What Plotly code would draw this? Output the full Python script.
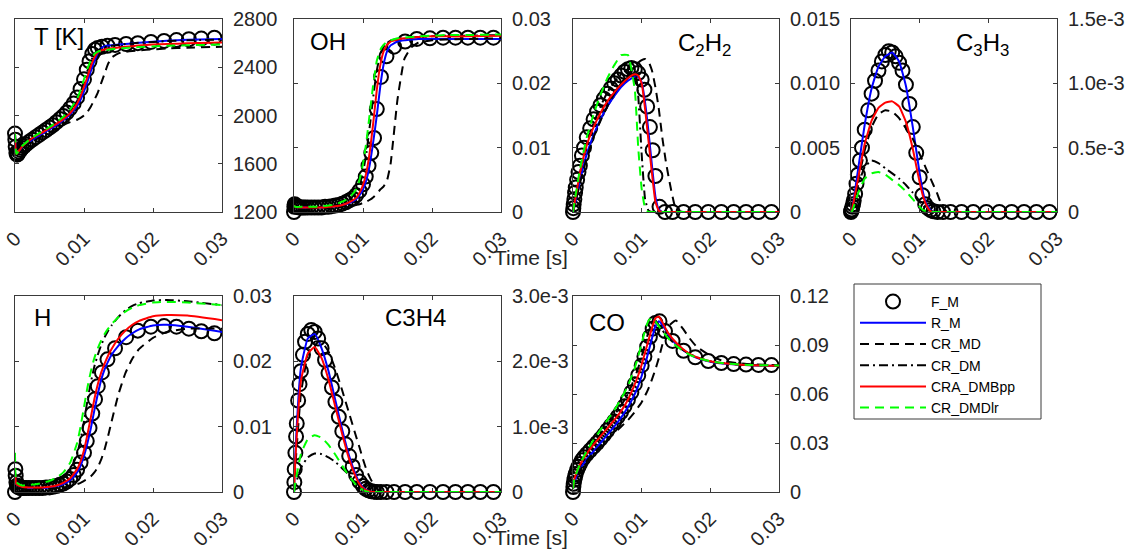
import plotly.graph_objects as go

# ---- sample times -------------------------------------------------------
t_fm = [0, 0.00005, 0.0001, 0.0002, 0.0003, 0.0004, 0.0006, 0.0008, 0.001, 0.0013,
        0.0016, 0.002, 0.0025, 0.003, 0.0035, 0.004, 0.0045, 0.005, 0.0055, 0.006,
        0.0065, 0.007, 0.0075, 0.008, 0.0085, 0.009, 0.0095, 0.01, 0.0104, 0.0108,
        0.0112, 0.0116, 0.012, 0.0126, 0.0134, 0.0145, 0.0161, 0.0178, 0.0197, 0.0216,
        0.0234, 0.0252, 0.027, 0.0289]

t_ln = [0, 0.0002, 0.001, 0.002, 0.003, 0.004, 0.005, 0.006, 0.007, 0.008,
        0.009, 0.0095, 0.010, 0.0105, 0.011, 0.0115, 0.012, 0.0125, 0.013, 0.0135,
        0.014, 0.015, 0.016, 0.017, 0.018, 0.020, 0.022, 0.025, 0.030]

# ---- temperature [K] ----------------------------------------------------
T_FM = [1850, 1800, 1740, 1690, 1675, 1680, 1700, 1715, 1730, 1745,
        1760, 1780, 1800, 1820, 1840, 1860, 1880, 1900, 1920, 1945,
        1970, 1995, 2025, 2060, 2100, 2150, 2220, 2300, 2380, 2450,
        2510, 2545, 2560, 2570, 2578, 2585, 2593, 2600, 2610, 2618,
        2625, 2632, 2638, 2645]
T_RM = [1850, 1680, 1735, 1780, 1815, 1850, 1885, 1920, 1960, 2010,
        2080, 2130, 2200, 2280, 2370, 2450, 2520, 2560, 2575, 2580,
        2583, 2588, 2593, 2598, 2603, 2612, 2620, 2627, 2635]
T_CRMD = [1850, 1680, 1730, 1770, 1800, 1830, 1860, 1890, 1920, 1945,
          1965, 1980, 2000, 2030, 2075, 2130, 2190, 2270, 2350, 2430,
          2480, 2515, 2528, 2535, 2540, 2548, 2555, 2562, 2570]
T_CRDM = [1850, 1680, 1740, 1790, 1830, 1865, 1900, 1940, 1985, 2040,
          2120, 2190, 2280, 2370, 2450, 2510, 2540, 2555, 2565, 2572,
          2578, 2585, 2592, 2598, 2603, 2610, 2617, 2623, 2630]
T_PP = [1850, 1680, 1740, 1790, 1830, 1860, 1895, 1930, 1970, 2020,
        2100, 2160, 2240, 2320, 2410, 2480, 2525, 2540, 2548, 2553,
        2557, 2563, 2570, 2575, 2580, 2588, 2593, 2598, 2605]
T_LR = [1850, 1680, 1745, 1795, 1835, 1870, 1905, 1945, 1990, 2050,
        2140, 2210, 2300, 2390, 2460, 2510, 2530, 2537, 2542, 2546,
        2550, 2555, 2560, 2565, 2568, 2573, 2578, 2582, 2588]

# ---- OH -----------------------------------------------------------------
OH_FM = [0.0, 0.0008, 0.0012, 0.0010, 0.0009, 0.0008, 0.0008, 0.0007, 0.0007, 0.0007,
         0.0007, 0.0007, 0.0007, 0.0007, 0.0007, 0.0007, 0.0008, 0.0008, 0.0009, 0.0010,
         0.0011, 0.0013, 0.0015, 0.0018, 0.0021, 0.0026, 0.0033, 0.0043, 0.0055, 0.0072,
         0.0092, 0.0115, 0.0160, 0.0210, 0.0242, 0.0257, 0.0265, 0.0269, 0.0270, 0.0271,
         0.0271, 0.0271, 0.0271, 0.0271]
OH_RM = [0.0010, 0.0008, 0.0007, 0.0007, 0.0007, 0.0007, 0.0008, 0.0009, 0.0011, 0.0014,
         0.0020, 0.0026, 0.0035, 0.0050, 0.0075, 0.0110, 0.0150, 0.0195, 0.0230, 0.0250,
         0.0259, 0.0265, 0.0267, 0.0268, 0.0269, 0.0269, 0.0269, 0.0269, 0.0269]
OH_CRMD = [0.0010, 0.0008, 0.0007, 0.0006, 0.0006, 0.0006, 0.0006, 0.0007, 0.0008, 0.0009,
           0.0011, 0.0012, 0.0014, 0.0016, 0.0019, 0.0023, 0.0028, 0.0035, 0.0040, 0.0050,
           0.0075, 0.0175, 0.0238, 0.0256, 0.0263, 0.0267, 0.0268, 0.0269, 0.0270]
OH_CRDM = [0.0010, 0.0008, 0.0007, 0.0007, 0.0007, 0.0008, 0.0009, 0.0011, 0.0014, 0.0019,
           0.0030, 0.0042, 0.0062, 0.0092, 0.0135, 0.0180, 0.0220, 0.0245, 0.0257, 0.0263,
           0.0266, 0.0269, 0.0270, 0.0271, 0.0272, 0.0273, 0.0274, 0.0274, 0.0275]
OH_PP = [0.0010, 0.0008, 0.0007, 0.0007, 0.0007, 0.0007, 0.0008, 0.0009, 0.0011, 0.0015,
         0.0022, 0.0030, 0.0042, 0.0062, 0.0095, 0.0140, 0.0190, 0.0228, 0.0250, 0.0260,
         0.0265, 0.0268, 0.0270, 0.0271, 0.0272, 0.0273, 0.0273, 0.0273, 0.0274]
OH_LR = [0.0010, 0.0008, 0.0008, 0.0008, 0.0008, 0.0009, 0.0010, 0.0012, 0.0016, 0.0022,
         0.0035, 0.0050, 0.0075, 0.0110, 0.0155, 0.0200, 0.0235, 0.0252, 0.0260, 0.0265,
         0.0267, 0.0270, 0.0271, 0.0272, 0.0273, 0.0274, 0.0275, 0.0275, 0.0276]

# ---- C2H2 ---------------------------------------------------------------
C2H2_FM = [0.0, 0.0003, 0.0006, 0.0010, 0.0015, 0.0019, 0.0025, 0.0031, 0.0036, 0.0044,
           0.0050, 0.0058, 0.0065, 0.0072, 0.0078, 0.0083, 0.0088, 0.0092, 0.0096, 0.0100,
           0.0103, 0.0106, 0.0109, 0.0111, 0.0112, 0.0111, 0.0108, 0.0103, 0.0095, 0.0082,
           0.0066, 0.0048, 0.0028, 0.0004, 0.0, 0.0, 0.0, 0.0, 0.0, 0.0,
           0.0, 0.0, 0.0, 0.0]
C2H2_RM = [0.0, 0.0004, 0.0024, 0.0045, 0.0060, 0.0072, 0.0082, 0.0090, 0.0097, 0.0102,
           0.0105, 0.0105, 0.0101, 0.0085, 0.0062, 0.0036, 0.0012, 0.0002, 0.0, 0.0,
           0.0, 0.0, 0.0, 0.0, 0.0, 0.0, 0.0, 0.0, 0.0]
C2H2_CRMD = [0.0, 0.0004, 0.0022, 0.0042, 0.0058, 0.0071, 0.0082, 0.0092, 0.0100, 0.0107,
             0.0113, 0.0116, 0.0118, 0.0119, 0.0117, 0.0110, 0.0097, 0.0080, 0.0058, 0.0040,
             0.0025, 0.0002, 0.0, 0.0, 0.0, 0.0, 0.0, 0.0, 0.0]
C2H2_CRDM = [0.0, 0.0006, 0.0030, 0.0053, 0.0069, 0.0082, 0.0093, 0.0101, 0.0107, 0.0111,
             0.0111, 0.0090, 0.0045, 0.0010, 0.0001, 0.0, 0.0, 0.0, 0.0, 0.0,
             0.0, 0.0, 0.0, 0.0, 0.0, 0.0, 0.0, 0.0, 0.0]
C2H2_PP = [0.0, 0.0006, 0.0030, 0.0052, 0.0066, 0.0077, 0.0086, 0.0093, 0.0099, 0.0104,
           0.0107, 0.0106, 0.0100, 0.0080, 0.0055, 0.0030, 0.0008, 0.0001, 0.0, 0.0,
           0.0, 0.0, 0.0, 0.0, 0.0, 0.0, 0.0, 0.0, 0.0]
C2H2_LR = [0.0, 0.0007, 0.0033, 0.0058, 0.0076, 0.0091, 0.0104, 0.0114, 0.0122, 0.0122,
           0.0095, 0.0050, 0.0018, 0.0003, 0.0, 0.0, 0.0, 0.0, 0.0, 0.0,
           0.0, 0.0, 0.0, 0.0, 0.0, 0.0, 0.0, 0.0, 0.0]

# ---- C3H3 ---------------------------------------------------------------
C3H3_FM = [0.0, 1e-5, 2e-5, 4e-5, 6e-5, 9e-5, 1.4e-4, 2.2e-4, 2.9e-4, 4.0e-4,
           5.0e-4, 6.4e-4, 7.9e-4, 9.2e-4, 1.02e-3, 1.10e-3, 1.17e-3, 1.22e-3, 1.25e-3, 1.24e-3,
           1.21e-3, 1.16e-3, 1.10e-3, 9.9e-4, 8.4e-4, 6.6e-4, 4.6e-4, 2.7e-4, 1.3e-4, 6e-5,
           3e-5, 1.5e-5, 5e-6, 0.0, 0.0, 0.0, 0.0, 0.0, 0.0, 0.0,
           0.0, 0.0, 0.0, 0.0]
C3H3_RM = [0.0, 3e-5, 3.2e-4, 6.8e-4, 9.6e-4, 1.13e-3, 1.21e-3, 1.24e-3, 1.17e-3, 9.8e-4,
           6.6e-4, 4.8e-4, 3.0e-4, 1.5e-4, 6e-5, 2e-5, 0.0, 0.0, 0.0, 0.0,
           0.0, 0.0, 0.0, 0.0, 0.0, 0.0, 0.0, 0.0, 0.0]
C3H3_CRMD = [0.0, 2e-5, 2.3e-4, 4.8e-4, 6.6e-4, 7.6e-4, 7.9e-4, 7.8e-4, 7.3e-4, 6.5e-4,
             5.7e-4, 5.1e-4, 4.5e-4, 3.9e-4, 3.3e-4, 2.7e-4, 2.1e-4, 1.5e-4, 8e-5, 3e-5,
             0.0, 0.0, 0.0, 0.0, 0.0, 0.0, 0.0, 0.0, 0.0]
C3H3_CRDM = [0.0, 2e-5, 2.0e-4, 3.5e-4, 4.0e-4, 3.8e-4, 3.4e-4, 3.0e-4, 2.6e-4, 2.1e-4,
             1.5e-4, 1.2e-4, 8e-5, 5e-5, 2.5e-5, 1e-5, 0.0, 0.0, 0.0, 0.0,
             0.0, 0.0, 0.0, 0.0, 0.0, 0.0, 0.0, 0.0, 0.0]
C3H3_PP = [0.0, 3e-5, 2.5e-4, 5.3e-4, 7.1e-4, 8.1e-4, 8.5e-4, 8.6e-4, 8.2e-4, 7.0e-4,
           4.9e-4, 3.6e-4, 2.3e-4, 1.2e-4, 5e-5, 1e-5, 0.0, 0.0, 0.0, 0.0,
           0.0, 0.0, 0.0, 0.0, 0.0, 0.0, 0.0, 0.0, 0.0]
C3H3_LR = [0.0, 1e-5, 1.4e-4, 2.6e-4, 3.0e-4, 3.1e-4, 2.9e-4, 2.5e-4, 2.1e-4, 1.6e-4,
           1.0e-4, 7e-5, 4e-5, 1.5e-5, 5e-6, 0.0, 0.0, 0.0, 0.0, 0.0,
           0.0, 0.0, 0.0, 0.0, 0.0, 0.0, 0.0, 0.0, 0.0]

# ---- H ------------------------------------------------------------------
H_FM = [0.0, 0.0035, 0.0025, 0.0015, 0.0010, 0.0008, 0.0007, 0.0006, 0.0006, 0.0006,
        0.0006, 0.0006, 0.0006, 0.0006, 0.0006, 0.0006, 0.0007, 0.0007, 0.0008, 0.0009,
        0.0011, 0.0013, 0.0016, 0.0020, 0.0026, 0.0034, 0.0045, 0.0060, 0.0078, 0.0098,
        0.0120, 0.0142, 0.0162, 0.0183, 0.0203, 0.0220, 0.0237, 0.0247, 0.0253, 0.0254,
        0.0253, 0.0250, 0.0246, 0.0243]
H_RM = [0.0030, 0.0012, 0.0007, 0.0006, 0.0006, 0.0006, 0.0007, 0.0009, 0.0012, 0.0018,
        0.0030, 0.0040, 0.0055, 0.0075, 0.0098, 0.0125, 0.0150, 0.0172, 0.0188, 0.0200,
        0.0210, 0.0224, 0.0235, 0.0243, 0.0249, 0.0255, 0.0256, 0.0253, 0.0245]
H_CRMD = [0.0030, 0.0012, 0.0006, 0.0005, 0.0005, 0.0005, 0.0005, 0.0006, 0.0007, 0.0009,
          0.0012, 0.0014, 0.0017, 0.0020, 0.0024, 0.0030, 0.0038, 0.0050, 0.0066, 0.0086,
          0.0108, 0.0150, 0.0182, 0.0204, 0.0219, 0.0236, 0.0245, 0.0250, 0.0250]
H_CRDM = [0.0030, 0.0012, 0.0008, 0.0008, 0.0009, 0.0010, 0.0012, 0.0016, 0.0022, 0.0033,
          0.0058, 0.0080, 0.0108, 0.0140, 0.0168, 0.0192, 0.0210, 0.0225, 0.0237, 0.0247,
          0.0255, 0.0268, 0.0278, 0.0285, 0.0289, 0.0293, 0.0294, 0.0292, 0.0286]
H_PP = [0.0030, 0.0012, 0.0008, 0.0007, 0.0007, 0.0007, 0.0008, 0.0010, 0.0014, 0.0021,
        0.0035, 0.0047, 0.0064, 0.0088, 0.0115, 0.0142, 0.0165, 0.0183, 0.0197, 0.0209,
        0.0219, 0.0235, 0.0247, 0.0256, 0.0262, 0.0269, 0.0271, 0.0270, 0.0263]
H_LR = [0.0060, 0.0015, 0.0010, 0.0011, 0.0012, 0.0014, 0.0017, 0.0022, 0.0030, 0.0045,
        0.0075, 0.0100, 0.0130, 0.0160, 0.0185, 0.0205, 0.0220, 0.0232, 0.0242, 0.0250,
        0.0257, 0.0268, 0.0276, 0.0282, 0.0286, 0.0290, 0.0291, 0.0290, 0.0286]

# ---- C3H4 ---------------------------------------------------------------
C3H4_FM = [0.0, 1.5e-4, 3.5e-4, 6.0e-4, 8.5e-4, 1.05e-3, 1.40e-3, 1.65e-3, 1.85e-3, 2.10e-3,
           2.30e-3, 2.42e-3, 2.48e-3, 2.45e-3, 2.35e-3, 2.20e-3, 2.02e-3, 1.82e-3, 1.60e-3, 1.38e-3,
           1.15e-3, 9.3e-4, 7.3e-4, 5.5e-4, 3.9e-4, 2.6e-4, 1.6e-4, 9e-5, 5e-5, 2.5e-5,
           1e-5, 5e-6, 0.0, 0.0, 0.0, 0.0, 0.0, 0.0, 0.0, 0.0,
           0.0, 0.0, 0.0, 0.0]
C3H4_RM = [0.0, 6.0e-4, 1.90e-3, 2.35e-3, 2.42e-3, 2.20e-3, 1.85e-3, 1.40e-3, 9.5e-4, 5.5e-4,
           2.5e-4, 1.4e-4, 7e-5, 3e-5, 1e-5, 0.0, 0.0, 0.0, 0.0, 0.0,
           0.0, 0.0, 0.0, 0.0, 0.0, 0.0, 0.0, 0.0, 0.0]
C3H4_CRMD = [0.0, 4.0e-4, 1.50e-3, 2.10e-3, 2.30e-3, 2.30e-3, 2.15e-3, 1.88e-3, 1.55e-3, 1.20e-3,
             8.5e-4, 6.8e-4, 5.0e-4, 3.4e-4, 2.2e-4, 1.2e-4, 5e-5, 1.5e-5, 0.0, 0.0,
             0.0, 0.0, 0.0, 0.0, 0.0, 0.0, 0.0, 0.0, 0.0]
C3H4_CRDM = [0.0, 1.0e-4, 3.7e-4, 5.3e-4, 5.9e-4, 5.8e-4, 5.3e-4, 4.6e-4, 3.6e-4, 2.6e-4,
             1.4e-4, 9e-5, 5e-5, 2e-5, 0.0, 0.0, 0.0, 0.0, 0.0, 0.0,
             0.0, 0.0, 0.0, 0.0, 0.0, 0.0, 0.0, 0.0, 0.0]
C3H4_PP = [0.0, 5.0e-4, 1.70e-3, 2.12e-3, 2.22e-3, 2.05e-3, 1.72e-3, 1.30e-3, 8.8e-4, 5.0e-4,
           2.2e-4, 1.2e-4, 6e-5, 2.5e-5, 1e-5, 0.0, 0.0, 0.0, 0.0, 0.0,
           0.0, 0.0, 0.0, 0.0, 0.0, 0.0, 0.0, 0.0, 0.0]
C3H4_LR = [0.0, 1.5e-4, 5.8e-4, 8.1e-4, 8.7e-4, 8.3e-4, 7.2e-4, 5.7e-4, 4.0e-4, 2.4e-4,
           1.1e-4, 6e-5, 3e-5, 1e-5, 0.0, 0.0, 0.0, 0.0, 0.0, 0.0,
           0.0, 0.0, 0.0, 0.0, 0.0, 0.0, 0.0, 0.0, 0.0]

# ---- CO -----------------------------------------------------------------
CO_FM = [0.0, 0.003, 0.005, 0.0075, 0.0095, 0.011, 0.0135, 0.0155, 0.0172, 0.0195,
         0.0212, 0.0232, 0.0255, 0.0278, 0.030, 0.0325, 0.035, 0.0378, 0.0405, 0.0432,
         0.046, 0.049, 0.0525, 0.0565, 0.061, 0.066, 0.0715, 0.0775, 0.083, 0.089,
         0.095, 0.100, 0.1035, 0.1045, 0.0985, 0.0925, 0.0865, 0.0825, 0.0802, 0.079,
         0.0783, 0.078, 0.0778, 0.0777]
CO_RM = [0.002, 0.006, 0.014, 0.020, 0.025, 0.030, 0.035, 0.040, 0.0455, 0.052,
         0.060, 0.065, 0.071, 0.078, 0.086, 0.094, 0.1015, 0.1045, 0.1025, 0.099,
         0.0955, 0.0905, 0.087, 0.0842, 0.0822, 0.0798, 0.0786, 0.0777, 0.0772]
CO_CRMD = [0.002, 0.006, 0.013, 0.019, 0.024, 0.028, 0.032, 0.036, 0.040, 0.044,
           0.049, 0.052, 0.055, 0.059, 0.0635, 0.069, 0.075, 0.082, 0.090, 0.097,
           0.102, 0.105, 0.100, 0.094, 0.089, 0.0835, 0.080, 0.0785, 0.0775]
CO_CRDM = [0.002, 0.007, 0.016, 0.024, 0.030, 0.0355, 0.041, 0.047, 0.053, 0.060,
           0.070, 0.076, 0.083, 0.091, 0.098, 0.1035, 0.105, 0.102, 0.099, 0.0965,
           0.094, 0.090, 0.087, 0.0845, 0.0825, 0.080, 0.0788, 0.0778, 0.0773]
CO_PP = [0.002, 0.008, 0.0165, 0.0235, 0.029, 0.034, 0.039, 0.044, 0.0495, 0.0565,
         0.066, 0.0715, 0.078, 0.0855, 0.093, 0.1005, 0.1065, 0.1075, 0.104, 0.100,
         0.0965, 0.0915, 0.0875, 0.0845, 0.0825, 0.080, 0.0788, 0.0778, 0.0773]
CO_LR = [0.002, 0.008, 0.017, 0.025, 0.032, 0.038, 0.044, 0.050, 0.057, 0.065,
         0.076, 0.083, 0.091, 0.099, 0.105, 0.1065, 0.1045, 0.1015, 0.0985, 0.096,
         0.0935, 0.0895, 0.0865, 0.084, 0.0822, 0.080, 0.0788, 0.0779, 0.0774]

# ---- axis ticks ---------------------------------------------------------
X_TICKS = [0, 0.01, 0.02, 0.03]
X_TICKTEXT = ["0", "0.01", "0.02", "0.03"]

T_TICKS = [1200, 1600, 2000, 2400, 2800]
T_TICKTEXT = ["1200", "1600", "2000", "2400", "2800"]
OH_TICKS = [0, 0.01, 0.02, 0.03]
OH_TICKTEXT = ["0", "0.01", "0.02", "0.03"]
C2H2_TICKS = [0, 0.005, 0.010, 0.015]
C2H2_TICKTEXT = ["0", "0.005", "0.010", "0.015"]
C3H3_TICKS = [0, 0.5e-3, 1.0e-3, 1.5e-3]
C3H3_TICKTEXT = ["0", "0.5e-3", "1.0e-3", "1.5e-3"]
H_TICKS = [0, 0.01, 0.02, 0.03]
H_TICKTEXT = ["0", "0.01", "0.02", "0.03"]
C3H4_TICKS = [0, 1.0e-3, 2.0e-3, 3.0e-3]
C3H4_TICKTEXT = ["0", "1.0e-3", "2.0e-3", "3.0e-3"]
CO_TICKS = [0, 0.03, 0.06, 0.09, 0.12]
CO_TICKTEXT = ["0", "0.03", "0.06", "0.09", "0.12"]

SERIES_NAMES = ["F_M", "R_M", "CR_MD", "CR_DM", "CRA_DMBpp", "CR_DMDlr"]

# ---- layout geometry (pixels of a 1131 x 557 canvas) --------------------
W, H = 1131, 557
COLS = [(15, 222), (294, 501), (573, 779), (851, 1057)]
ROWS = [(19, 212), (296, 492)]
LEGEND_BOX = (854, 284, 1041, 419)

panels = [
    dict(fm=T_FM, rm=T_RM, md=T_CRMD, dm=T_CRDM, pp=T_PP, lr=T_LR,
         yr=[1200, 2800], tv=T_TICKS, tt=T_TICKTEXT,
         label="T [K]", lx=0.08, ly=0.91, row=0, col=0),
    dict(fm=OH_FM, rm=OH_RM, md=OH_CRMD, dm=OH_CRDM, pp=OH_PP, lr=OH_LR,
         yr=[0, 0.03], tv=OH_TICKS, tt=OH_TICKTEXT,
         label="OH", lx=0.07, ly=0.885, row=0, col=1),
    dict(fm=C2H2_FM, rm=C2H2_RM, md=C2H2_CRMD, dm=C2H2_CRDM, pp=C2H2_PP, lr=C2H2_LR,
         yr=[0, 0.015], tv=C2H2_TICKS, tt=C2H2_TICKTEXT,
         label="C<sub>2</sub>H<sub>2</sub>", lx=0.5, ly=0.87, row=0, col=2),
    dict(fm=C3H3_FM, rm=C3H3_RM, md=C3H3_CRMD, dm=C3H3_CRDM, pp=C3H3_PP, lr=C3H3_LR,
         yr=[0, 1.5e-3], tv=C3H3_TICKS, tt=C3H3_TICKTEXT,
         label="C<sub>3</sub>H<sub>3</sub>", lx=0.5, ly=0.87, row=0, col=3),
    dict(fm=H_FM, rm=H_RM, md=H_CRMD, dm=H_CRDM, pp=H_PP, lr=H_LR,
         yr=[0, 0.03], tv=H_TICKS, tt=H_TICKTEXT,
         label="H", lx=0.08, ly=0.89, row=1, col=0),
    dict(fm=C3H4_FM, rm=C3H4_RM, md=C3H4_CRMD, dm=C3H4_CRDM, pp=C3H4_PP, lr=C3H4_LR,
         yr=[0, 3.0e-3], tv=C3H4_TICKS, tt=C3H4_TICKTEXT,
         label="C3H4", lx=0.43, ly=0.89, row=1, col=1),
    dict(fm=CO_FM, rm=CO_RM, md=CO_CRMD, dm=CO_CRDM, pp=CO_PP, lr=CO_LR,
         yr=[0, 0.12], tv=CO_TICKS, tt=CO_TICKTEXT,
         label="CO", lx=0.07, ly=0.865, row=1, col=2),
]

FONT = "Liberation Sans, Arial, Helvetica, sans-serif"
INK = "#262626"
FRAME = "#3a3a3a"

line_styles = {
    "rm": dict(color="#0000ff", width=2, dash="solid"),
    "md": dict(color="#000000", width=2, dash="9px,6px"),
    "dm": dict(color="#000000", width=2, dash="9px,4px,2px,4px"),
    "pp": dict(color="#ff0000", width=2, dash="solid"),
    "lr": dict(color="#00ff00", width=2, dash="9px,6px"),
}
line_keys = ["rm", "md", "dm", "pp", "lr"]

fig = go.Figure()
annotations = []

for i, p in enumerate(panels):
    n = i + 1
    xa = "x" if n == 1 else f"x{n}"
    ya = "y" if n == 1 else f"y{n}"
    first = (i == 0)

    fig.add_trace(go.Scatter(
        x=t_fm, y=p["fm"], mode="markers", name=SERIES_NAMES[0],
        marker=dict(symbol="circle-open", size=14, color="#000000",
                    line=dict(width=2, color="#000000")),
        cliponaxis=False, showlegend=first, legendrank=1,
        xaxis=xa, yaxis=ya))
    for k, key in enumerate(line_keys):
        fig.add_trace(go.Scatter(
            x=t_ln, y=p[key], mode="lines", name=SERIES_NAMES[k + 1],
            line=dict(shape="spline", smoothing=0.4, **line_styles[key]),
            showlegend=first, legendrank=k + 2,
            xaxis=xa, yaxis=ya))

    c0, c1 = COLS[p["col"]]
    r0, r1 = ROWS[p["row"]]
    axis_common = dict(showline=True, linecolor=FRAME, linewidth=1, mirror="ticks",
                       ticks="inside", ticklen=4, tickcolor=FRAME, tickwidth=1,
                       showgrid=False, zeroline=False, automargin=False,
                       tickfont=dict(family=FONT, size=20, color=INK))
    fig.layout[f"xaxis{'' if n == 1 else n}"] = dict(
        domain=[c0 / W, c1 / W], anchor=ya, range=[0, 0.03],
        tickvals=X_TICKS, ticktext=X_TICKTEXT, tickangle=-45,
        ticklabelstandoff=6, **axis_common)
    fig.layout[f"yaxis{'' if n == 1 else n}"] = dict(
        domain=[1 - r1 / H, 1 - r0 / H], anchor=xa, range=p["yr"], side="right",
        tickvals=p["tv"], ticktext=p["tt"], ticklabelstandoff=6, **axis_common)

    annotations.append(dict(
        text=p["label"], xref=f"{xa} domain", yref=f"{ya} domain",
        x=p["lx"], y=p["ly"], xanchor="left", yanchor="middle", showarrow=False,
        font=dict(family=FONT, size=24, color="#000000")))

for ty in (257, 537):
    annotations.append(dict(
        text="Time [s]", xref="paper", yref="paper", x=492 / W, y=1 - ty / H,
        xanchor="left", yanchor="middle", showarrow=False,
        font=dict(family=FONT, size=21, color=INK)))

lx0, ly0, lx1, ly1 = LEGEND_BOX
fig.update_layout(
    width=W, height=H, margin=dict(l=0, r=0, t=0, b=0, autoexpand=False),
    paper_bgcolor="white", plot_bgcolor="white",
    annotations=annotations,
    shapes=[dict(type="rect", xref="paper", yref="paper",
                 x0=lx0 / W, x1=lx1 / W, y0=1 - ly1 / H, y1=1 - ly0 / H,
                 line=dict(color=FRAME, width=1), fillcolor="rgba(0,0,0,0)")],
    legend=dict(x=(lx0 + 1) / W, y=1 - (ly0 + 2) / H, xanchor="left", yanchor="top",
                bgcolor="rgba(0,0,0,0)", borderwidth=0,
                itemwidth=66, tracegroupgap=0,
                font=dict(family=FONT, size=14, color="#000000")),
)

fig.write_html("out.html")
